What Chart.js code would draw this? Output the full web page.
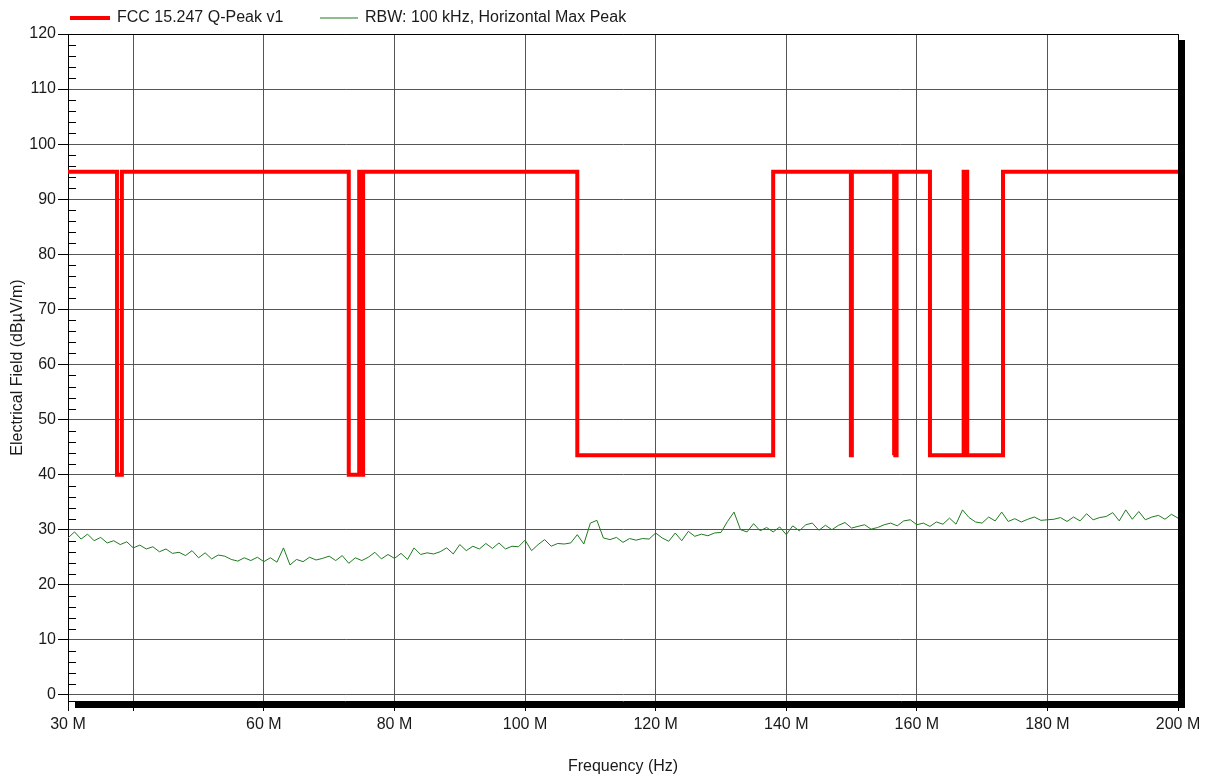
<!DOCTYPE html>
<html>
<head>
<meta charset="utf-8">
<script src="https://cdn.jsdelivr.net/npm/chart.js@4.4.0/dist/chart.umd.min.js"></script>
<style>
  html, body { margin: 0; padding: 0; background: #fff; }
  #wrap { width: 1208px; height: 776px; }
</style>
</head>
<body>
<div id="wrap"><canvas id="canvas" width="1208" height="776"></canvas></div>
<script>
// limit line, MHz / dBuV/m
var limitFreq = [30, 37.5, 37.5, 38.25, 38.25, 73, 73, 74.6, 74.6, 74.8, 74.8, 75.2, 75.2,
  108, 108, 138, 138, 149.9, 149.9, 150.05, 150.05, 156.52475, 156.52475, 156.52525, 156.52525,
  156.7, 156.7, 156.9, 156.9, 162.0125, 162.0125, 167.17, 167.17, 167.72, 167.72, 173.2, 173.2, 200];
var limitLevel = [95, 95, 40, 40, 95, 95, 40, 40, 95, 95, 40, 40, 95,
  95, 43.5, 43.5, 95, 95, 43.5, 43.5, 95, 95, 43.5, 43.5, 95,
  95, 43.5, 43.5, 95, 95, 43.5, 43.5, 95, 95, 43.5, 43.5, 95, 95];

// measured sweep, MHz / dBuV/m
var sweepFreq = [
  30, 31, 32, 33, 34, 35, 36, 37, 38, 39,
  40, 41, 42, 43, 44, 45, 46, 47, 48, 49,
  50, 51, 52, 53, 54, 55, 56, 57, 58, 59,
  60, 61, 62, 63, 64, 65, 66, 67, 68, 69,
  70, 71, 72, 73, 74, 75, 76, 77, 78, 79,
  80, 81, 82, 83, 84, 85, 86, 87, 88, 89,
  90, 91, 92, 93, 94, 95, 96, 97, 98, 99,
  100, 101, 102, 103, 104, 105, 106, 107, 108, 109,
  110, 111, 112, 113, 114, 115, 116, 117, 118, 119,
  120, 121, 122, 123, 124, 125, 126, 127, 128, 129,
  130, 131, 132, 133, 134, 135, 136, 137, 138, 139,
  140, 141, 142, 143, 144, 145, 146, 147, 148, 149,
  150, 151, 152, 153, 154, 155, 156, 157, 158, 159,
  160, 161, 162, 163, 164, 165, 166, 167, 168, 169,
  170, 171, 172, 173, 174, 175, 176, 177, 178, 179,
  180, 181, 182, 183, 184, 185, 186, 187, 188, 189,
  190, 191, 192, 193, 194, 195, 196, 197, 198, 199,
  200];
var sweepLevel = [
  28.5, 29.6, 28.3, 29.2, 28.0, 28.6, 27.6, 28.0, 27.3, 27.8,
  26.7, 27.2, 26.5, 26.9, 26.0, 26.5, 25.7, 25.9, 25.3, 26.2,
  24.9, 25.8, 24.7, 25.4, 25.2, 24.6, 24.3, 24.9, 24.4, 25.0,
  24.2, 24.9, 24.1, 26.7, 23.6, 24.6, 24.2, 25.0, 24.5, 24.8,
  25.2, 24.4, 25.3, 23.9, 24.9, 24.4, 25.0, 25.9, 24.7, 25.5,
  24.8, 25.7, 24.6, 26.7, 25.5, 25.8, 25.6, 26.0, 26.7, 25.6,
  27.3, 26.2, 27.0, 26.5, 27.5, 26.6, 27.6, 26.5, 27.0, 26.9,
  28.1, 26.2, 27.3, 28.2, 27.0, 27.5, 27.4, 27.6, 29.1, 27.4,
  31.2, 31.7, 28.5, 28.2, 28.6, 27.7, 28.4, 28.1, 28.4, 28.3,
  29.4, 28.5, 27.9, 29.4, 28.0, 29.7, 28.8, 29.2, 28.9, 29.4,
  29.5, 31.5, 33.2, 30.0, 29.6, 31.1, 29.8, 30.4, 29.6, 30.5,
  29.1, 30.7, 29.8, 30.9, 31.2, 29.9, 30.8, 30.0, 30.8, 31.3,
  30.3, 30.6, 30.9, 30.1, 30.4, 30.9, 31.2, 30.7, 31.6, 31.8,
  30.9, 31.2, 30.6, 31.4, 31.0, 32.1, 31.0, 33.6, 32.2, 31.4,
  31.2, 32.3, 31.6, 33.2, 31.5, 32.0, 31.4, 31.9, 32.3, 31.7,
  31.8, 31.9, 32.2, 31.5, 32.3, 31.6, 32.9, 31.8, 32.2, 32.4,
  33.1, 31.6, 33.6, 31.9, 33.3, 31.8, 32.3, 32.6, 31.9, 32.8,
  32.1];

var xTickValues = [30, 40, 60, 80, 100, 120, 140, 160, 180, 200];
var xTickLabels = ['30 M', '', '60 M', '80 M', '100 M', '120 M', '140 M', '160 M', '180 M', '200 M'];
var yTickValues = [0, 10, 20, 30, 40, 50, 60, 70, 80, 90, 100, 110, 120];
var yMinorValues = [2, 4, 6, 8, 12, 14, 16, 18, 22, 24, 26, 28, 32, 34, 36, 38, 42, 44, 46, 48,
  52, 54, 56, 58, 62, 64, 66, 68, 72, 74, 76, 78, 82, 84, 86, 88, 92, 94, 96, 98,
  102, 104, 106, 108, 112, 114, 116, 118];

var FONT = "'Liberation Sans', Arial, sans-serif";
var TEXT = '#1a1a1a';

function toPoints(xs, ys) {
  return xs.map(function(x, i) { return { x: x, y: ys[i] }; });
}

// box border, drop shadow and inner minor ticks
var framePlugin = {
  id: 'frame',
  beforeDatasetsDraw: function(chart) {
    var a = chart.chartArea, ctx = chart.ctx;
    ctx.save();
    ctx.fillStyle = '#000';
    ctx.fillRect(a.right + 1, a.top + 6, 6, a.bottom - a.top + 1);
    ctx.fillRect(a.left + 7, a.bottom + 1, a.right - a.left, 6);
    ctx.strokeStyle = '#000';
    ctx.lineWidth = 1;
    ctx.beginPath();
    ctx.moveTo(a.left, Math.round(a.top) + 0.5);
    ctx.lineTo(Math.round(a.right) + 0.5, Math.round(a.top) + 0.5);
    ctx.lineTo(Math.round(a.right) + 0.5, a.bottom);
    ctx.stroke();
    var y = chart.scales.y;
    ctx.beginPath();
    yMinorValues.forEach(function(v) {
      var py = Math.round(y.getPixelForValue(v)) + 0.5;
      ctx.moveTo(a.left, py);
      ctx.lineTo(a.left + 8, py);
    });
    ctx.stroke();
    ctx.restore();
  }
};

// legend row above the plot
var legendPlugin = {
  id: 'topLegend',
  afterDraw: function(chart) {
    var ctx = chart.ctx;
    var slots = [{ x: 70, w: 40, tx: 117 }, { x: 320, w: 38, tx: 365 }];
    ctx.save();
    ctx.font = '16px ' + FONT;
    ctx.textBaseline = 'middle';
    chart.data.datasets.forEach(function(ds, i) {
      var s = slots[i];
      ctx.strokeStyle = ds.borderColor;
      ctx.lineWidth = i === 0 ? 4 : 1.2;
      ctx.beginPath();
      ctx.moveTo(s.x, 18);
      ctx.lineTo(s.x + s.w, 18);
      ctx.stroke();
      ctx.fillStyle = TEXT;
      ctx.fillText(ds.label, s.tx, 18);
    });
    ctx.restore();
  }
};

var chartInstance = new Chart(document.getElementById('canvas'), {
  type: 'line',
  data: {
    datasets: [{
      label: 'FCC 15.247 Q-Peak v1',
      data: toPoints(limitFreq, limitLevel),
      borderColor: '#ff0000',
      borderWidth: 4,
      pointRadius: 0,
      fill: false
    }, {
      label: 'RBW: 100 kHz, Horizontal Max Peak',
      data: toPoints(sweepFreq, sweepLevel),
      borderColor: '#1e7b1e',
      borderWidth: 1,
      pointRadius: 0,
      fill: false
    }]
  },
  options: {
    responsive: false,
    animation: false,
    devicePixelRatio: 1,
    layout: { padding: { top: 34, right: 30, left: 0, bottom: 0 } },
    plugins: {
      legend: { display: false },
      tooltip: { enabled: false }
    },
    scales: {
      x: {
        type: 'linear',
        min: 30,
        max: 200,
        afterBuildTicks: function(s) {
          s.ticks = xTickValues.map(function(v) { return { value: v }; });
        },
        afterFit: function(s) { s.height = 75; },
        ticks: {
          autoSkip: false,
          maxRotation: 0,
          padding: 4,
          color: TEXT,
          font: { family: FONT, size: 16 },
          callback: function(v, i) { return xTickLabels[i]; }
        },
        grid: { color: '#555', tickColor: '#000', tickLength: 10 },
        border: { color: '#000' },
        title: {
          display: true,
          text: 'Frequency (Hz)',
          color: TEXT,
          font: { family: FONT, size: 16 },
          padding: { top: 0, bottom: 0 }
        }
      },
      y: {
        type: 'linear',
        min: -1.1,
        max: 120,
        afterBuildTicks: function(s) {
          s.ticks = yTickValues.map(function(v) { return { value: v }; });
        },
        afterFit: function(s) { s.width = 68; },
        ticks: {
          padding: 2,
          color: TEXT,
          font: { family: FONT, size: 16 }
        },
        grid: { color: '#555', tickColor: '#000', tickLength: 10 },
        border: { color: '#000' },
        title: {
          display: true,
          text: 'Electrical Field (dBµV/m)',
          color: TEXT,
          font: { family: FONT, size: 16 },
          padding: { top: 8, bottom: 0 }
        }
      }
    }
  },
  plugins: [framePlugin, legendPlugin]
});
</script>
</body>
</html>
